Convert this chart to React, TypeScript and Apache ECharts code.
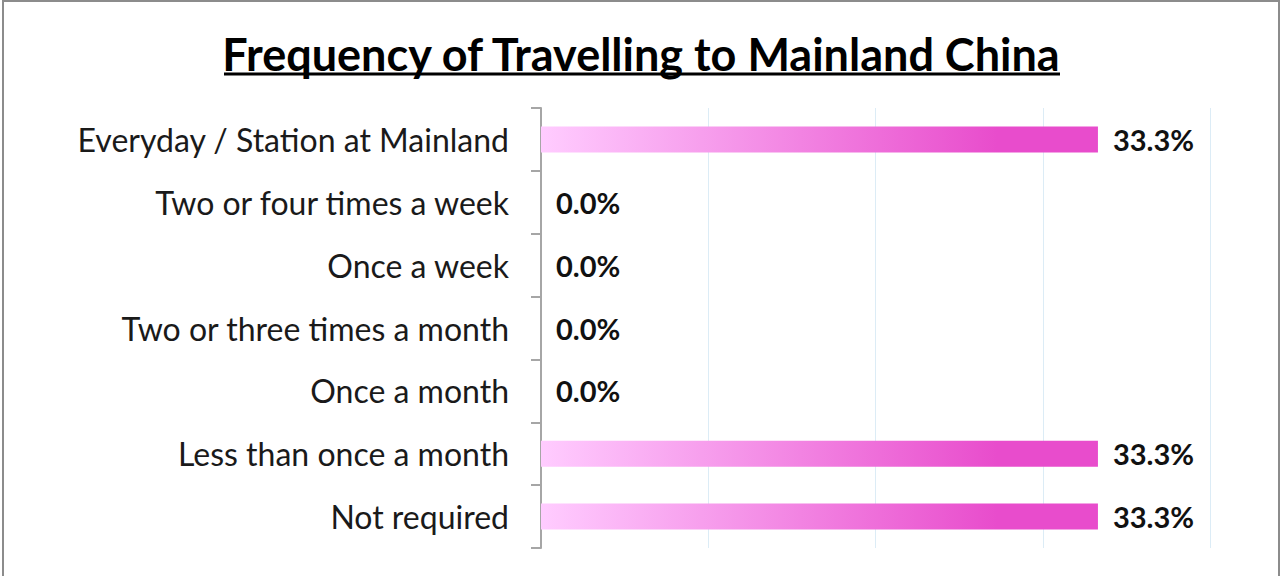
import React, { useEffect, useRef } from "react";
import * as echarts from "echarts";

const titleText = "Frequency of Travelling to Mainland China";
const categories = [
  "Everyday / Station at Mainland",
  "Two or four times a week",
  "Once a week",
  "Two or three times a month",
  "Once a month",
  "Less than once a month",
  "Not required",
];
const values = [33.3, 0.0, 0.0, 0.0, 0.0, 33.3, 33.3];
const axisMax = 40;
const axisInterval = 10;

export default function App() {
  const ref = useRef<HTMLDivElement>(null);
  useEffect(() => {
    document.body.style.margin = "0";
    const chart = echarts.init(ref.current!, undefined, { renderer: "svg" });
    chart.setOption({
      animation: false,
      backgroundColor: "#ffffff",
      title: {
        text: titleText,
        left: "center",
        top: 26,
        textStyle: {
          fontFamily: "Lato",
          fontWeight: "bold",
          fontSize: 45,
          color: "#000000",
        },
      },
      graphic: [
        {
          type: "rect",
          shape: { x: 3, y: 1, width: 1276, height: 600 },
          style: { fill: "none", stroke: "#8c8c8c", lineWidth: 2 },
          silent: true,
        },
        {
          type: "line",
          shape: { x1: 224, y1: 74, x2: 1060, y2: 74 },
          style: { stroke: "#000000", lineWidth: 3 },
          silent: true,
        },
      ],
      grid: { left: 541, right: 72, top: 108, bottom: 28 },
      xAxis: {
        type: "value",
        min: 0,
        max: axisMax,
        interval: axisInterval,
        axisLabel: { show: false },
        axisLine: { show: false },
        axisTick: { show: false },
        splitLine: { show: true, lineStyle: { color: "#dcecf6", width: 1 } },
      },
      yAxis: {
        type: "category",
        inverse: true,
        data: categories,
        axisLine: { show: true, lineStyle: { color: "#a6a6a6", width: 2 } },
        axisTick: { show: true, length: 10, lineStyle: { color: "#a6a6a6", width: 2 } },
        axisLabel: {
          fontFamily: "Lato",
          fontSize: 32,
          color: "#1a1a1a",
          margin: 32,
        },
      },
      series: [
        {
          type: "bar",
          data: values,
          barWidth: 26,
          itemStyle: {
            color: new echarts.graphic.LinearGradient(0, 0, 1, 0, [
              { offset: 0, color: "#ffccff" },
              { offset: 0.82, color: "#e84ccc" },
              { offset: 1, color: "#e84ccc" },
            ]),
            borderWidth: 0,
          },
          label: {
            show: true,
            position: "right",
            distance: 15,
            fontFamily: "Lato",
            fontWeight: "bold",
            fontSize: 29,
            color: "#111111",
            formatter: (p: any) => Number(p.value).toFixed(1) + "%",
          },
        },
      ],
    });
    return () => chart.dispose();
  }, []);
  return <div ref={ref} style={{ width: 1282, height: 576 }} />;
}
